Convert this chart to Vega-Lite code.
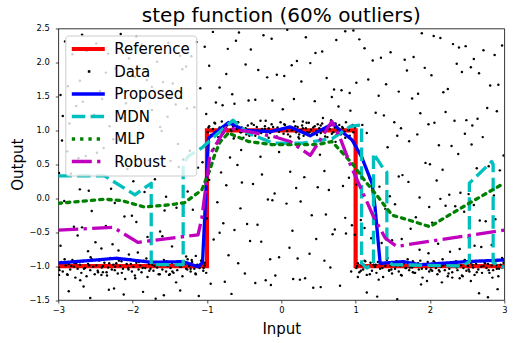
{
"$schema":"https://vega.github.io/schema/vega-lite/v6.json",
"width":446,"height":271.5,
"autosize":{"type":"none"},
"padding":{"left":58.3,"top":28.5,"right":9.7,"bottom":43},
"background":"white",
"title":{"text":"step function (60% outliers)","fontSize":20,"font":"DejaVu Sans","fontWeight":"normal","color":"black","anchor":"middle","frame":"group","offset":-2},
"config":{
 "font":"DejaVu Sans",
 "view":{"stroke":"black","strokeWidth":0.8},
 "axis":{"grid":false,"domain":false,"tickColor":"black","tickWidth":0.7,"tickSize":3,"labelFont":"DejaVu Sans","labelFontSize":8.33,"labelColor":"black","titleFont":"DejaVu Sans","titleFontSize":15,"titleFontWeight":"normal","titleColor":"black","labelFlush":false,"labelOverlap":false,"labelBound":false},
 "legend":{"title":null,"orient":"top-left","offset":7,"padding":6,"fillColor":"rgba(255,255,255,0.8)","strokeColor":"#cccccc","cornerRadius":3,"labelFont":"DejaVu Sans","labelFontSize":15,"labelColor":"black","rowPadding":6.5,"symbolType":"M-1.4,0H5.2","symbolSize":100,"labelOffset":28,"labelLimit":300,"symbolOpacity":1}
},
"datasets":{
"curves":[
{"s":"Reference","i":0,"x":-3,"y":-1},{"s":"Reference","i":1,"x":-1,"y":-1},{"s":"Reference","i":2,"x":-1,"y":1},{"s":"Reference","i":3,"x":1,"y":1},{"s":"Reference","i":4,"x":1,"y":-1},{"s":"Reference","i":5,"x":3,"y":-1},
{"s":"Proposed","i":0,"x":-3,"y":-0.955},{"s":"Proposed","i":1,"x":-2.6,"y":-0.92},{"s":"Proposed","i":2,"x":-2.22,"y":-0.885},{"s":"Proposed","i":3,"x":-1.75,"y":-0.944},{"s":"Proposed","i":4,"x":-1.32,"y":-0.935},{"s":"Proposed","i":5,"x":-1.12,"y":-1.01},{"s":"Proposed","i":6,"x":-1.06,"y":-0.95},{"s":"Proposed","i":7,"x":-0.98,"y":0.885},{"s":"Proposed","i":8,"x":-0.71,"y":1.115},{"s":"Proposed","i":9,"x":-0.49,"y":1.0},{"s":"Proposed","i":10,"x":-0.15,"y":0.98},{"s":"Proposed","i":11,"x":0.12,"y":1.05},{"s":"Proposed","i":12,"x":0.39,"y":0.92},{"s":"Proposed","i":13,"x":0.7,"y":1.1},{"s":"Proposed","i":14,"x":0.79,"y":1.0},{"s":"Proposed","i":15,"x":0.95,"y":0.86},{"s":"Proposed","i":16,"x":1.08,"y":0.61},{"s":"Proposed","i":17,"x":1.22,"y":0.22},{"s":"Proposed","i":18,"x":1.26,"y":-0.12},{"s":"Proposed","i":19,"x":1.33,"y":-0.96},{"s":"Proposed","i":20,"x":1.64,"y":-0.935},{"s":"Proposed","i":21,"x":1.87,"y":-0.98},{"s":"Proposed","i":22,"x":2.49,"y":-0.935},{"s":"Proposed","i":23,"x":3,"y":-0.91},
{"s":"MDN","i":0,"x":-3,"y":0.33},{"s":"MDN","i":1,"x":-2.38,"y":0.33},{"s":"MDN","i":2,"x":-1.97,"y":0.05},{"s":"MDN","i":3,"x":-1.75,"y":0.22},{"s":"MDN","i":4,"x":-1.75,"y":-0.98},{"s":"MDN","i":5,"x":-1.32,"y":-0.98},{"s":"MDN","i":6,"x":-1.32,"y":0.5},{"s":"MDN","i":7,"x":-1.25,"y":0.62},{"s":"MDN","i":8,"x":-1.07,"y":0.74},{"s":"MDN","i":9,"x":-0.65,"y":1.15},{"s":"MDN","i":10,"x":-0.45,"y":0.96},{"s":"MDN","i":11,"x":-0.11,"y":0.81},{"s":"MDN","i":12,"x":0.29,"y":0.81},{"s":"MDN","i":13,"x":0.69,"y":0.88},{"s":"MDN","i":14,"x":0.93,"y":1.06},{"s":"MDN","i":15,"x":1.08,"y":1.08},{"s":"MDN","i":16,"x":1.08,"y":-0.96},{"s":"MDN","i":17,"x":1.15,"y":-1.03},{"s":"MDN","i":18,"x":1.24,"y":-0.96},{"s":"MDN","i":19,"x":1.24,"y":0.66},{"s":"MDN","i":20,"x":1.37,"y":0.44},{"s":"MDN","i":21,"x":1.42,"y":0.38},{"s":"MDN","i":22,"x":1.42,"y":-0.93},{"s":"MDN","i":23,"x":1.5,"y":-0.98},{"s":"MDN","i":24,"x":2.0,"y":-0.99},{"s":"MDN","i":25,"x":2.44,"y":-1.0},{"s":"MDN","i":26,"x":2.53,"y":-0.93},{"s":"MDN","i":27,"x":2.53,"y":0.22},{"s":"MDN","i":28,"x":2.83,"y":0.54},{"s":"MDN","i":29,"x":2.85,"y":0.5},{"s":"MDN","i":30,"x":2.85,"y":-0.95},{"s":"MDN","i":31,"x":3,"y":-1.02},
{"s":"MLP","i":0,"x":-3,"y":-0.075},{"s":"MLP","i":1,"x":-2.38,"y":-0.015},{"s":"MLP","i":2,"x":-2.15,"y":-0.035},{"s":"MLP","i":3,"x":-1.84,"y":-0.13},{"s":"MLP","i":4,"x":-1.52,"y":-0.1},{"s":"MLP","i":5,"x":-1.3,"y":-0.065},{"s":"MLP","i":6,"x":-1.07,"y":0.12},{"s":"MLP","i":7,"x":-0.96,"y":0.42},{"s":"MLP","i":8,"x":-0.89,"y":0.66},{"s":"MLP","i":9,"x":-0.82,"y":0.835},{"s":"MLP","i":10,"x":-0.71,"y":0.96},{"s":"MLP","i":11,"x":-0.44,"y":0.835},{"s":"MLP","i":12,"x":-0.13,"y":0.79},{"s":"MLP","i":13,"x":0.12,"y":0.79},{"s":"MLP","i":14,"x":0.48,"y":0.79},{"s":"MLP","i":15,"x":0.68,"y":0.835},{"s":"MLP","i":16,"x":0.83,"y":0.66},{"s":"MLP","i":17,"x":0.97,"y":0.49},{"s":"MLP","i":18,"x":1.1,"y":0.29},{"s":"MLP","i":19,"x":1.3,"y":0.02},{"s":"MLP","i":20,"x":1.49,"y":-0.25},{"s":"MLP","i":21,"x":1.71,"y":-0.32},{"s":"MLP","i":22,"x":2.0,"y":-0.42},{"s":"MLP","i":23,"x":2.18,"y":-0.3},{"s":"MLP","i":24,"x":2.55,"y":-0.06},{"s":"MLP","i":25,"x":2.95,"y":0.19},
{"s":"Robust","i":0,"x":-3,"y":-0.47},{"s":"Robust","i":1,"x":-2.26,"y":-0.43},{"s":"Robust","i":2,"x":-1.93,"y":-0.65},{"s":"Robust","i":3,"x":-1.12,"y":-0.54},{"s":"Robust","i":4,"x":-1.07,"y":-0.3},{"s":"Robust","i":5,"x":-0.96,"y":0.64},{"s":"Robust","i":6,"x":-0.82,"y":0.9},{"s":"Robust","i":7,"x":-0.74,"y":1.04},{"s":"Robust","i":8,"x":-0.44,"y":0.98},{"s":"Robust","i":9,"x":-0.11,"y":0.91},{"s":"Robust","i":10,"x":0.12,"y":0.835},{"s":"Robust","i":11,"x":0.39,"y":0.63},{"s":"Robust","i":12,"x":0.68,"y":1.13},{"s":"Robust","i":13,"x":0.79,"y":0.89},{"s":"Robust","i":14,"x":0.93,"y":0.49},{"s":"Robust","i":15,"x":1.24,"y":-0.27},{"s":"Robust","i":16,"x":1.4,"y":-0.59},{"s":"Robust","i":17,"x":1.55,"y":-0.71},{"s":"Robust","i":18,"x":3,"y":-0.47}
],
"pts":[
{"x":-2.91,"y":2.31},{"x":1.34,"y":2.07},{"x":-0.57,"y":2.44},{"x":2.72,"y":2.18},{"x":-1.88,"y":2.26},{"x":0.21,"y":2.02},{"x":2.05,"y":2.39},{"x":-2.33,"y":2.13},{"x":0.97,"y":2.47},{"x":-1.21,"y":2.09},{"x":2.48,"y":2.24},{"x":-0.13,"y":2.35},{"x":1.66,"y":2.04},{"x":-2.68,"y":2.41},{"x":0.55,"y":2.16},{"x":-1.52,"y":2.29},{"x":2.87,"y":2.11},{"x":-0.92,"y":2.45},{"x":1.12,"y":2.21},{"x":-2.05,"y":2.06},{"x":0.33,"y":2.37},{"x":2.31,"y":2.27},{"x":-1.67,"y":2.01},{"x":-0.41,"y":2.19},{"x":1.89,"y":2.43},{"x":-2.81,"y":2.12},{"x":0.74,"y":2.33},{"x":-1.03,"y":2.23},{"x":2.59,"y":2.05},{"x":-0.24,"y":2.4},{"x":1.47,"y":2.15},{"x":-2.49,"y":2.28},{"x":0.08,"y":2.48},{"x":-1.36,"y":2.1},{"x":2.14,"y":2.36},{"x":-0.72,"y":2.2},{"x":1.23,"y":2.03},{"x":-2.16,"y":2.42},{"x":2.97,"y":2.25},{"x":0.46,"y":2.14},{"x":-1.95,"y":2.38},{"x":1.78,"y":2.08},{"x":-0.61,"y":2.32},{"x":-2.62,"y":2.17},{"x":0.86,"y":2.46},{"x":2.39,"y":2.22},{"x":-1.14,"y":2.3},{"x":1.05,"y":2.34},
{"x":0.61,"y":1.77},{"x":-2.44,"y":1.58},{"x":1.93,"y":1.92},{"x":-0.83,"y":1.63},{"x":2.66,"y":1.84},{"x":-1.59,"y":1.71},{"x":0.14,"y":1.96},{"x":-2.97,"y":1.52},{"x":1.41,"y":1.68},{"x":-0.31,"y":1.89},{"x":2.24,"y":1.61},{"x":-1.97,"y":1.79},{"x":0.92,"y":1.55},{"x":-1.28,"y":1.94},{"x":2.81,"y":1.66},{"x":-0.06,"y":1.82},{"x":1.58,"y":1.57},{"x":-2.71,"y":1.73},{"x":0.39,"y":1.99},{"x":-1.74,"y":1.64},{"x":2.43,"y":1.86},{"x":-0.66,"y":1.53},{"x":1.17,"y":1.75},{"x":-2.23,"y":1.91},{"x":0.71,"y":1.6},{"x":2.02,"y":1.81},{"x":-1.46,"y":1.69},{"x":-0.48,"y":1.97},{"x":1.84,"y":1.54},{"x":-2.58,"y":1.87},{"x":0.27,"y":1.72},{"x":-1.09,"y":1.62},{"x":2.55,"y":1.93},{"x":-0.19,"y":1.78},{"x":1.31,"y":1.51},{"x":-2.36,"y":1.85},{"x":2.92,"y":1.67},{"x":-0.97,"y":1.95},{"x":0.81,"y":1.59},{"x":-1.81,"y":1.74},{"x":1.69,"y":1.88},{"x":-2.87,"y":1.65},{"x":0.04,"y":1.8},{"x":2.18,"y":1.56},{"x":-1.33,"y":1.9},{"x":1.01,"y":1.7},{"x":-0.74,"y":1.83},{"x":2.36,"y":1.98},
{"x":-2.76,"y":1.36},{"x":1.52,"y":1.12},{"x":-0.44,"y":1.44},{"x":2.21,"y":1.27},{"x":-1.63,"y":1.05},{"x":0.68,"y":1.49},{"x":-2.13,"y":1.19},{"x":2.77,"y":1.33},{"x":-0.88,"y":1.41},{"x":1.09,"y":1.08},{"x":-2.52,"y":1.23},{"x":0.17,"y":1.46},{"x":2.49,"y":1.15},{"x":-1.42,"y":1.38},{"x":0.93,"y":1.29},{"x":-0.22,"y":1.02},{"x":1.76,"y":1.47},{"x":-2.94,"y":1.21},{"x":2.06,"y":1.11},{"x":-1.17,"y":1.34},{"x":0.45,"y":1.43},{"x":-2.31,"y":1.06},{"x":1.27,"y":1.26},{"x":-0.63,"y":1.39},{"x":2.64,"y":1.17},{"x":-1.86,"y":1.48},{"x":0.02,"y":1.31},{"x":1.98,"y":1.09},{"x":-2.67,"y":1.42},{"x":-1.01,"y":1.24},{"x":0.77,"y":1.35},{"x":2.33,"y":1.14},{"x":-0.35,"y":1.45},{"x":-1.53,"y":1.2},{"x":1.61,"y":1.03},{"x":-2.09,"y":1.4},{"x":2.9,"y":1.28},{"x":0.29,"y":1.13},{"x":-0.79,"y":1.37},{"x":1.38,"y":1.22},{"x":-2.41,"y":1.46},{"x":2.57,"y":1.07},{"x":-1.27,"y":1.32},{"x":0.56,"y":1.18},{"x":-0.12,"y":1.44},{"x":1.87,"y":1.25},{"x":-2.85,"y":1.1},{"x":-1.74,"y":1.3},
{"x":2.12,"y":0.78},{"x":-1.49,"y":0.55},{"x":0.36,"y":0.93},{"x":-2.63,"y":0.62},{"x":1.72,"y":0.84},{"x":-0.54,"y":0.71},{"x":2.84,"y":0.51},{"x":-1.91,"y":0.97},{"x":0.85,"y":0.66},{"x":-0.17,"y":0.89},{"x":1.28,"y":0.58},{"x":-2.39,"y":0.74},{"x":2.47,"y":0.95},{"x":-1.06,"y":0.53},{"x":0.1,"y":0.81},{"x":-2.88,"y":0.69},{"x":1.56,"y":0.92},{"x":-0.69,"y":0.6},{"x":2.29,"y":0.77},{"x":-1.61,"y":0.99},{"x":0.52,"y":0.64},{"x":-2.18,"y":0.86},{"x":1.94,"y":0.52},{"x":-0.91,"y":0.73},{"x":2.71,"y":0.9},{"x":-1.32,"y":0.57},{"x":0.73,"y":0.83},{"x":-2.48,"y":0.67},{"x":1.15,"y":0.96},{"x":-0.28,"y":0.61},{"x":2.56,"y":0.79},{"x":-2.02,"y":0.54},{"x":0.24,"y":0.88},{"x":-1.23,"y":0.7},{"x":1.83,"y":0.94},{"x":-2.73,"y":0.59},{"x":0.98,"y":0.82},{"x":2.38,"y":0.65},{"x":-0.47,"y":0.98},{"x":-1.78,"y":0.56},{"x":1.43,"y":0.75},{"x":-2.26,"y":0.87},{"x":2.99,"y":0.63},{"x":0.59,"y":0.91},{"x":-0.03,"y":0.68},{"x":-1.39,"y":0.8},{"x":2.0,"y":0.5},{"x":-2.95,"y":0.85},
{"x":-0.97,"y":0.27},{"x":2.41,"y":0.08},{"x":-2.07,"y":0.43},{"x":0.49,"y":0.16},{"x":1.63,"y":0.34},{"x":-1.55,"y":0.02},{"x":2.79,"y":0.47},{"x":-0.38,"y":0.21},{"x":0.12,"y":0.39},{"x":-2.59,"y":0.11},{"x":1.19,"y":0.29},{"x":-1.12,"y":0.45},{"x":2.26,"y":0.05},{"x":-2.83,"y":0.36},{"x":0.83,"y":0.18},{"x":-0.59,"y":0.49},{"x":1.71,"y":0.24},{"x":-1.84,"y":0.09},{"x":2.94,"y":0.41},{"x":0.31,"y":0.31},{"x":-2.29,"y":0.14},{"x":1.46,"y":0.03},{"x":-0.81,"y":0.38},{"x":2.09,"y":0.26},{"x":-1.38,"y":0.46},{"x":0.64,"y":0.12},{"x":-2.45,"y":0.33},{"x":1.01,"y":0.2},{"x":-0.09,"y":0.07},{"x":2.63,"y":0.44},{"x":-1.7,"y":0.28},{"x":0.2,"y":0.15},{"x":-2.99,"y":0.37},{"x":1.86,"y":0.01},{"x":-0.53,"y":0.23},{"x":2.17,"y":0.42},{"x":-1.26,"y":0.1},{"x":0.91,"y":0.3},{"x":-2.14,"y":0.48},{"x":1.32,"y":0.17},{"x":-0.26,"y":0.35},{"x":2.52,"y":0.06},{"x":-1.99,"y":0.25},{"x":0.58,"y":0.4},{"x":-2.71,"y":0.13},{"x":1.58,"y":0.32},{"x":-0.74,"y":0.19},{"x":2.86,"y":0.04},
{"x":1.26,"y":-0.22},{"x":-2.36,"y":-0.41},{"x":0.07,"y":-0.08},{"x":2.67,"y":-0.33},{"x":-1.19,"y":-0.17},{"x":0.72,"y":-0.46},{"x":-2.92,"y":-0.04},{"x":1.81,"y":-0.28},{"x":-0.46,"y":-0.38},{"x":2.34,"y":-0.12},{"x":-1.63,"y":-0.49},{"x":0.41,"y":-0.25},{"x":-0.86,"y":-0.06},{"x":2.03,"y":-0.36},{"x":-2.55,"y":-0.19},{"x":1.12,"y":-0.44},{"x":-0.18,"y":-0.02},{"x":2.88,"y":-0.31},{"x":-1.41,"y":-0.14},{"x":0.95,"y":-0.4},{"x":-2.11,"y":-0.27},{"x":1.53,"y":-0.09},{"x":-0.63,"y":-0.47},{"x":2.46,"y":-0.2},{"x":-1.95,"y":-0.35},{"x":0.26,"y":-0.05},{"x":-2.68,"y":-0.43},{"x":1.4,"y":-0.16},{"x":-1.0,"y":-0.3},{"x":2.21,"y":-0.11},{"x":-0.32,"y":-0.39},{"x":0.6,"y":-0.24},{"x":-2.24,"y":-0.07},{"x":1.74,"y":-0.45},{"x":-1.57,"y":-0.18},{"x":2.75,"y":-0.34},{"x":-0.12,"y":-0.03},{"x":0.86,"y":-0.29},{"x":-2.79,"y":-0.42},{"x":1.99,"y":-0.13},{"x":-0.78,"y":-0.37},{"x":-1.32,"y":-0.21},{"x":0.15,"y":-0.48},{"x":2.59,"y":-0.1},{"x":-2.01,"y":-0.26},{"x":1.07,"y":-0.32},{"x":-0.55,"y":-0.15},{"x":2.14,"y":-0.01},
{"x":-0.42,"y":-0.63},{"x":1.98,"y":-0.81},{"x":-2.74,"y":-0.55},{"x":0.58,"y":-0.92},{"x":-1.47,"y":-0.71},{"x":2.52,"y":-0.58},{"x":-0.03,"y":-0.87},{"x":1.35,"y":-0.66},{"x":-2.19,"y":-0.77},{"x":0.87,"y":-0.52},{"x":-1.03,"y":-0.95},{"x":2.83,"y":-0.69},{"x":-0.71,"y":-0.84},{"x":1.62,"y":-0.6},{"x":-2.42,"y":-0.74},{"x":0.22,"y":-0.89},{"x":-1.8,"y":-0.57},{"x":2.27,"y":-0.79},{"x":-0.27,"y":-0.64},{"x":1.11,"y":-0.98},{"x":-2.97,"y":-0.7},{"x":0.69,"y":-0.53},{"x":-1.28,"y":-0.86},{"x":2.4,"y":-0.75},{"x":-0.91,"y":-0.61},{"x":1.77,"y":-0.93},{"x":-2.27,"y":-0.68},{"x":0.38,"y":-0.82},{"x":-1.6,"y":-0.56},{"x":2.69,"y":-0.72},{"x":-0.15,"y":-0.9},{"x":1.49,"y":-0.62},{"x":-2.6,"y":-0.78},{"x":0.99,"y":-0.54},{"x":-1.15,"y":-0.85},{"x":2.11,"y":-0.67},{"x":-0.58,"y":-0.96},{"x":1.21,"y":-0.59},{"x":-1.93,"y":-0.8},{"x":0.11,"y":-0.73},{"x":-2.5,"y":-0.65},{"x":2.97,"y":-0.88},{"x":-0.83,"y":-0.51},{"x":1.86,"y":-0.76},{"x":-1.36,"y":-0.94},{"x":0.47,"y":-0.6},{"x":-2.05,"y":-0.83},{"x":2.6,"y":-0.7},
{"x":2.16,"y":-1.24},{"x":-0.67,"y":-1.41},{"x":1.45,"y":-1.07},{"x":-2.25,"y":-1.33},{"x":0.32,"y":-1.18},{"x":2.78,"y":-1.46},{"x":-1.5,"y":-1.12},{"x":0.79,"y":-1.29},{"x":-2.86,"y":-1.37},{"x":1.68,"y":-1.03},{"x":-0.21,"y":-1.21},{"x":-1.11,"y":-1.44},{"x":2.44,"y":-1.15},{"x":0.53,"y":-1.31},{"x":-2.4,"y":-1.09},{"x":1.15,"y":-1.39},{"x":-0.95,"y":-1.26},{"x":2.01,"y":-1.05},{"x":-1.69,"y":-1.48},{"x":0.16,"y":-1.19},{"x":2.91,"y":-1.34},{"x":-0.49,"y":-1.11},{"x":1.88,"y":-1.27},{"x":-2.12,"y":-1.42},{"x":0.66,"y":-1.02},{"x":-1.36,"y":-1.36},{"x":2.55,"y":-1.22},{"x":-0.08,"y":-1.14},{"x":1.29,"y":-1.45},{"x":-2.66,"y":-1.3},{"x":0.94,"y":-1.08},{"x":-1.86,"y":-1.38},{"x":2.3,"y":-1.17},{"x":-0.35,"y":-1.25},{"x":1.56,"y":-1.49},{"x":-2.99,"y":-1.13},{"x":0.43,"y":-1.32},{"x":-1.22,"y":-1.04},{"x":2.66,"y":-1.4},{"x":-0.76,"y":-1.23},{"x":1.03,"y":-1.16},{"x":-2.32,"y":-1.35},{"x":1.79,"y":-1.1},{"x":-0.14,"y":-1.28},{"x":-1.58,"y":-1.43},{"x":0.25,"y":-1.2},{"x":2.12,"y":-1.06},{"x":-2.57,"y":-1.47},
{"x":-2.99,"y":-1.02},{"x":-2.96,"y":-0.94},{"x":-2.94,"y":-1.08},{"x":-2.9,"y":-0.99},{"x":-2.88,"y":-1.12},{"x":-2.86,"y":-0.97},{"x":-2.84,"y":-1.05},{"x":-2.81,"y":-0.91},{"x":-2.79,"y":-1.01},{"x":-2.77,"y":-1.17},{"x":-2.76,"y":-0.96},
{"x":-2.74,"y":-1.04},{"x":-2.71,"y":-0.98},{"x":-2.69,"y":-1.1},{"x":-2.67,"y":-0.93},{"x":-2.64,"y":-1.03},{"x":-2.62,"y":-1.15},{"x":-2.6,"y":-0.97},{"x":-2.57,"y":-1.06},{"x":-2.55,"y":-0.9},{"x":-2.53,"y":-1.01},{"x":-2.51,"y":-1.12},
{"x":-2.49,"y":-0.99},{"x":-2.47,"y":-1.07},{"x":-2.45,"y":-0.92},{"x":-2.42,"y":-1.13},{"x":-2.4,"y":-1.0},{"x":-2.38,"y":-0.95},{"x":-2.35,"y":-1.09},{"x":-2.33,"y":-1.02},{"x":-2.3,"y":-0.88},{"x":-2.28,"y":-1.05},{"x":-2.26,"y":-0.98},
{"x":-2.24,"y":-1.06},{"x":-2.22,"y":-0.96},{"x":-2.2,"y":-1.11},{"x":-2.17,"y":-1.0},{"x":-2.15,"y":-0.93},{"x":-2.13,"y":-1.04},{"x":-2.1,"y":-1.19},{"x":-2.08,"y":-0.97},{"x":-2.06,"y":-1.03},{"x":-2.03,"y":-0.9},{"x":-2.01,"y":-1.08},
{"x":-1.99,"y":-1.01},{"x":-1.97,"y":-1.14},{"x":-1.95,"y":-0.95},{"x":-1.92,"y":-1.05},{"x":-1.9,"y":-0.99},{"x":-1.88,"y":-1.09},{"x":-1.85,"y":-0.92},{"x":-1.83,"y":-1.03},{"x":-1.8,"y":-1.16},{"x":-1.78,"y":-0.97},{"x":-1.76,"y":-1.04},
{"x":-1.74,"y":-0.98},{"x":-1.72,"y":-1.07},{"x":-1.69,"y":-0.94},{"x":-1.67,"y":-1.02},{"x":-1.65,"y":-1.12},{"x":-1.62,"y":-0.99},{"x":-1.6,"y":-1.05},{"x":-1.58,"y":-0.91},{"x":-1.55,"y":-1.08},{"x":-1.53,"y":-1.0},{"x":-1.51,"y":-1.13},
{"x":-1.49,"y":-1.03},{"x":-1.47,"y":-0.95},{"x":-1.45,"y":-1.1},{"x":-1.42,"y":-0.99},{"x":-1.4,"y":-1.06},{"x":-1.38,"y":-0.93},{"x":-1.35,"y":-1.01},{"x":-1.33,"y":-1.15},{"x":-1.3,"y":-0.97},{"x":-1.28,"y":-1.04},{"x":-1.26,"y":-0.9},
{"x":-1.24,"y":-1.0},{"x":-1.22,"y":-1.08},{"x":-1.2,"y":-0.94},{"x":-1.17,"y":-1.04},{"x":-1.15,"y":-1.12},{"x":-1.13,"y":-0.98},{"x":-1.1,"y":-1.03},{"x":-1.08,"y":-0.92},{"x":-1.05,"y":-1.07},{"x":-1.03,"y":-0.99},{"x":-1.01,"y":-1.1},
{"x":-2.985,"y":-1.06},{"x":-2.915,"y":-0.9},{"x":-2.875,"y":-1.13},{"x":-2.825,"y":-1.0},{"x":-2.785,"y":-0.95},{"x":-2.705,"y":-1.21},{"x":-2.655,"y":-1.04},{"x":-2.585,"y":-0.99},{"x":-2.565,"y":-0.87},{"x":-2.465,"y":-1.09},{"x":-2.415,"y":-1.02},{"x":-2.345,"y":-1.14},{"x":-2.315,"y":-0.96},{"x":-2.235,"y":-1.01},{"x":-2.185,"y":-0.92},{"x":-2.145,"y":-1.1},{"x":-2.055,"y":-1.05},{"x":-2.025,"y":-0.97},{"x":-1.965,"y":-1.18},{"x":-1.915,"y":-0.94},{"x":-1.865,"y":-1.03},{"x":-1.815,"y":-0.89},{"x":-1.775,"y":-1.07},{"x":-1.705,"y":-1.0},{"x":-1.635,"y":-1.12},{"x":-1.575,"y":-0.98},{"x":-1.545,"y":-0.93},{"x":-1.465,"y":-1.08},{"x":-1.415,"y":-1.24},{"x":-1.365,"y":-1.01},{"x":-1.315,"y":-0.96},{"x":-1.265,"y":-1.05},{"x":-1.205,"y":-0.91},{"x":-1.155,"y":-1.11},{"x":-1.105,"y":-0.99},{"x":-1.045,"y":-1.03},
{"x":-0.98,"y":1.04},{"x":-0.93,"y":0.93},{"x":-0.89,"y":1.1},{"x":-0.84,"y":0.99},{"x":-0.79,"y":0.95},{"x":-0.73,"y":1.07},{"x":-0.68,"y":1.01},{"x":-0.64,"y":0.88},{"x":-0.59,"y":1.12},{"x":-0.54,"y":0.97},{"x":-0.48,"y":1.03},{"x":-0.43,"y":0.92},{"x":-0.37,"y":1.08},{"x":-0.32,"y":1.0},{"x":-0.27,"y":0.96},{"x":-0.21,"y":1.14},{"x":-0.16,"y":0.98},{"x":-0.11,"y":1.05},{"x":-0.06,"y":0.91},{"x":0.0,"y":1.02},{"x":0.04,"y":1.09},{"x":0.09,"y":0.94},{"x":0.14,"y":1.0},{"x":0.19,"y":1.06},{"x":0.23,"y":0.9},{"x":0.29,"y":1.03},{"x":0.34,"y":1.11},{"x":0.38,"y":0.97},{"x":0.43,"y":1.04},{"x":0.48,"y":0.93},{"x":0.53,"y":1.07},{"x":0.57,"y":0.99},{"x":0.63,"y":1.02},{"x":0.68,"y":0.95},{"x":0.73,"y":1.1},{"x":0.77,"y":0.96},{"x":0.82,"y":1.05},{"x":0.86,"y":0.89},{"x":0.91,"y":1.01},{"x":0.96,"y":1.08},
{"x":-0.99,"y":0.97},{"x":-0.97,"y":1.06},{"x":-0.95,"y":0.93},{"x":-0.92,"y":1.02},{"x":-0.9,"y":1.11},{"x":-0.88,"y":0.98},{"x":-0.85,"y":0.9},{"x":-0.83,"y":1.04},{"x":-0.8,"y":1.13},{"x":-0.78,"y":0.96},{"x":-0.76,"y":1.01},
{"x":-0.74,"y":1.03},{"x":-0.72,"y":0.95},{"x":-0.7,"y":1.09},{"x":-0.67,"y":0.99},{"x":-0.65,"y":1.05},{"x":-0.63,"y":0.91},{"x":-0.6,"y":1.02},{"x":-0.58,"y":1.12},{"x":-0.55,"y":0.97},{"x":-0.53,"y":1.04},{"x":-0.51,"y":0.89},
{"x":-0.49,"y":1.01},{"x":-0.47,"y":0.94},{"x":-0.45,"y":1.07},{"x":-0.42,"y":0.98},{"x":-0.4,"y":1.1},{"x":-0.38,"y":1.0},{"x":-0.35,"y":0.92},{"x":-0.33,"y":1.05},{"x":-0.3,"y":0.97},{"x":-0.28,"y":1.14},{"x":-0.26,"y":1.02},
{"x":-0.24,"y":0.99},{"x":-0.22,"y":1.06},{"x":-0.2,"y":0.93},{"x":-0.17,"y":1.03},{"x":-0.15,"y":0.96},{"x":-0.13,"y":1.09},{"x":-0.1,"y":1.0},{"x":-0.08,"y":0.9},{"x":-0.05,"y":1.04},{"x":-0.03,"y":0.98},{"x":-0.01,"y":1.12},
{"x":0.01,"y":1.02},{"x":0.03,"y":0.95},{"x":0.05,"y":1.08},{"x":0.08,"y":0.99},{"x":0.1,"y":1.04},{"x":0.12,"y":0.91},{"x":0.15,"y":1.01},{"x":0.17,"y":1.13},{"x":0.2,"y":0.97},{"x":0.22,"y":1.05},{"x":0.24,"y":0.94},
{"x":0.26,"y":1.0},{"x":0.28,"y":1.07},{"x":0.3,"y":0.92},{"x":0.33,"y":1.03},{"x":0.35,"y":0.97},{"x":0.37,"y":1.11},{"x":0.4,"y":1.01},{"x":0.42,"y":0.95},{"x":0.45,"y":1.06},{"x":0.47,"y":0.99},{"x":0.49,"y":1.09},
{"x":0.51,"y":1.03},{"x":0.53,"y":0.96},{"x":0.55,"y":1.1},{"x":0.58,"y":0.98},{"x":0.6,"y":1.05},{"x":0.62,"y":0.9},{"x":0.65,"y":1.02},{"x":0.67,"y":1.15},{"x":0.7,"y":0.97},{"x":0.72,"y":1.04},{"x":0.74,"y":0.93},
{"x":0.76,"y":1.01},{"x":0.78,"y":1.08},{"x":0.8,"y":0.94},{"x":0.83,"y":1.03},{"x":0.85,"y":0.98},{"x":0.87,"y":1.12},{"x":0.9,"y":1.0},{"x":0.92,"y":0.92},{"x":0.95,"y":1.06},{"x":0.97,"y":0.97},{"x":0.99,"y":1.04},
{"x":1.01,"y":-1.03},{"x":1.03,"y":-0.96},{"x":1.05,"y":-1.09},{"x":1.08,"y":-0.99},{"x":1.1,"y":-1.05},{"x":1.12,"y":-0.92},{"x":1.15,"y":-1.13},{"x":1.17,"y":-1.01},{"x":1.2,"y":-0.95},{"x":1.22,"y":-1.07},{"x":1.24,"y":-0.98},
{"x":1.26,"y":-1.01},{"x":1.28,"y":-1.1},{"x":1.3,"y":-0.94},{"x":1.33,"y":-1.04},{"x":1.35,"y":-0.97},{"x":1.37,"y":-1.16},{"x":1.4,"y":-1.0},{"x":1.42,"y":-0.91},{"x":1.45,"y":-1.06},{"x":1.47,"y":-0.99},{"x":1.49,"y":-1.11},
{"x":1.51,"y":-0.97},{"x":1.53,"y":-1.04},{"x":1.55,"y":-0.93},{"x":1.58,"y":-1.08},{"x":1.6,"y":-1.0},{"x":1.62,"y":-1.14},{"x":1.65,"y":-0.96},{"x":1.67,"y":-1.03},{"x":1.7,"y":-0.9},{"x":1.72,"y":-1.06},{"x":1.74,"y":-0.99},
{"x":1.76,"y":-1.02},{"x":1.78,"y":-0.95},{"x":1.8,"y":-1.1},{"x":1.83,"y":-1.0},{"x":1.85,"y":-1.05},{"x":1.87,"y":-0.92},{"x":1.9,"y":-1.17},{"x":1.92,"y":-0.98},{"x":1.95,"y":-1.04},{"x":1.97,"y":-0.94},{"x":1.99,"y":-1.08},
{"x":2.01,"y":-0.99},{"x":2.03,"y":-1.07},{"x":2.05,"y":-0.93},{"x":2.08,"y":-1.03},{"x":2.1,"y":-1.12},{"x":2.12,"y":-0.97},{"x":2.15,"y":-1.01},{"x":2.17,"y":-0.9},{"x":2.2,"y":-1.06},{"x":2.22,"y":-0.98},{"x":2.24,"y":-1.15},
{"x":2.26,"y":-1.04},{"x":2.28,"y":-0.96},{"x":2.3,"y":-1.09},{"x":2.33,"y":-1.0},{"x":2.35,"y":-0.93},{"x":2.37,"y":-1.06},{"x":2.4,"y":-1.18},{"x":2.42,"y":-0.99},{"x":2.45,"y":-1.03},{"x":2.47,"y":-0.91},{"x":2.49,"y":-1.07},
{"x":2.51,"y":-1.0},{"x":2.53,"y":-1.08},{"x":2.55,"y":-0.95},{"x":2.58,"y":-1.02},{"x":2.6,"y":-1.13},{"x":2.62,"y":-0.97},{"x":2.65,"y":-1.05},{"x":2.67,"y":-0.92},{"x":2.7,"y":-1.1},{"x":2.72,"y":-1.0},{"x":2.74,"y":-0.96},
{"x":2.76,"y":-1.03},{"x":2.78,"y":-0.97},{"x":2.8,"y":-1.1},{"x":2.83,"y":-0.99},{"x":2.85,"y":-1.06},{"x":2.87,"y":-0.93},{"x":2.9,"y":-1.04},{"x":2.92,"y":-1.15},{"x":2.95,"y":-0.98},{"x":2.97,"y":-1.02},{"x":2.99,"y":-0.95},
{"x":1.02,"y":-1.0},{"x":1.07,"y":-1.07},{"x":1.13,"y":-0.93},{"x":1.19,"y":-1.12},{"x":1.27,"y":-0.98},{"x":1.31,"y":-1.2},{"x":1.36,"y":-1.03},{"x":1.43,"y":-0.88},{"x":1.48,"y":-1.05},{"x":1.54,"y":-1.0},{"x":1.61,"y":-1.13},{"x":1.66,"y":-0.94},{"x":1.73,"y":-1.02},{"x":1.77,"y":-1.09},{"x":1.84,"y":-0.96},{"x":1.89,"y":-1.04},{"x":1.96,"y":-1.22},{"x":2.02,"y":-1.01},{"x":2.07,"y":-0.95},{"x":2.13,"y":-1.08},{"x":2.18,"y":-0.99},{"x":2.25,"y":-1.11},{"x":2.31,"y":-0.97},{"x":2.36,"y":-1.02},{"x":2.43,"y":-1.14},{"x":2.46,"y":-0.92},{"x":2.52,"y":-1.05},{"x":2.57,"y":-0.98},{"x":2.63,"y":-1.09},{"x":2.69,"y":-1.01},{"x":2.73,"y":-0.94},{"x":2.79,"y":-1.06},{"x":2.84,"y":-1.17},{"x":2.89,"y":-0.99},{"x":2.93,"y":-1.04},{"x":2.98,"y":-0.9}
]
},
"encoding":{
 "x":{"field":"x","type":"quantitative","scale":{"domain":[-3,3],"nice":false,"zero":false},"axis":{"title":"Input","values":[-3,-2,-1,0,1,2,3],"format":"d","labelPadding":2,"titlePadding":8}},
 "y":{"field":"y","type":"quantitative","scale":{"domain":[-1.5,2.5],"nice":false,"zero":false},"axis":{"title":"Output","values":[-1.5,-1,-0.5,0,0.5,1,1.5,2,2.5],"format":".1f","labelPadding":6,"titlePadding":4}}
},
"layer":[
 {"data":{"name":"curves"},"transform":[{"filter":"datum.s==='Reference'"}],"mark":{"type":"line","clip":true,"strokeCap":"butt"},
  "encoding":{
   "order":{"field":"i","type":"quantitative"},
   "color":{"field":"s","type":"nominal","scale":{"domain":["Reference","Data","Proposed","MDN","MLP","Robust"],"range":["#ff0000","#000000","#0000ff","#00bfbf","#008000","#bf00bf"]}},
   "strokeDash":{"field":"s","type":"nominal","scale":{"domain":["Reference","Data","Proposed","MDN","MLP","Robust"],"range":[[1,0],[0.01,16,2.5,100],[1,0],[13.5,5.3],[3.3,5],[20,5.3,3.3,5.3]]}},
   "strokeWidth":{"field":"s","type":"nominal","scale":{"type":"ordinal","domain":["Reference","Data","Proposed","MDN","MLP","Robust"],"range":[4.2,2.6,3.3,3.3,3.3,3.3]}}
  }},
 {"data":{"name":"pts"},"mark":{"type":"circle","size":6,"color":"black","opacity":1,"clip":true}},
 {"data":{"name":"curves"},
  "encoding":{
   "order":{"field":"i","type":"quantitative"},
   "color":{"field":"s","type":"nominal","scale":{"domain":["Reference","Data","Proposed","MDN","MLP","Robust"],"range":["#ff0000","#000000","#0000ff","#00bfbf","#008000","#bf00bf"]}},
   "strokeDash":{"field":"s","type":"nominal","scale":{"domain":["Reference","Data","Proposed","MDN","MLP","Robust"],"range":[[1,0],[0.01,16,2.5,100],[1,0],[13.5,5.3],[3.3,5],[20,5.3,3.3,5.3]]}},
   "strokeWidth":{"field":"s","type":"nominal","scale":{"type":"ordinal","domain":["Reference","Data","Proposed","MDN","MLP","Robust"],"range":[4.2,2.6,3.3,3.3,3.3,3.3]}}
  },
  "layer":[
   {"transform":[{"filter":"datum.s==='Proposed'"}],"mark":{"type":"line","clip":true,"strokeCap":"butt","strokeJoin":"round"}},
   {"transform":[{"filter":"datum.s==='MDN'"}],"mark":{"type":"line","clip":true,"strokeCap":"butt","strokeJoin":"round"}},
   {"transform":[{"filter":"datum.s==='MLP'"}],"mark":{"type":"line","clip":true,"strokeCap":"round","strokeJoin":"round"}},
   {"transform":[{"filter":"datum.s==='Robust'"}],"mark":{"type":"line","clip":true,"strokeCap":"butt","strokeJoin":"round"}}
  ]}
]
}
